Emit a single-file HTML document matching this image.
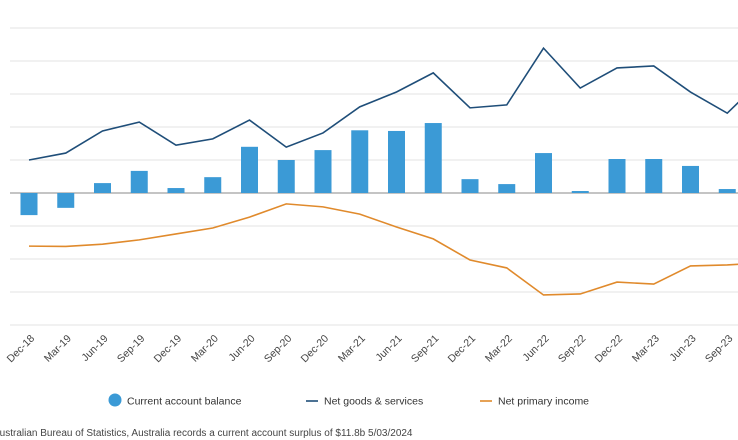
<!DOCTYPE html>
<html><head><meta charset="utf-8">
<style>
body{margin:0;background:#fff;width:738px;height:440px;overflow:hidden;font-family:"Liberation Sans",sans-serif;}
svg{position:absolute;left:0;top:0}
</style></head>
<body>
<svg id="chart" width="738" height="440"></svg>
<script>
const categories=["Dec-18","Mar-19","Jun-19","Sep-19","Dec-19","Mar-20","Jun-20","Sep-20","Dec-20","Mar-21","Jun-21","Sep-21","Dec-21","Mar-22","Jun-22","Sep-22","Dec-22","Mar-23","Jun-23","Sep-23","Dec-23"];
const currentAccount=[-6.7,-4.5,3,6.7,1.5,4.8,14,10,13,19,18.8,21.2,4.2,2.7,12.1,0.6,10.3,10.3,8.2,1.2,3.6];
const netGoods=[10,12.1,18.8,21.5,14.5,16.4,22.1,13.9,18.2,26.1,30.6,36.4,25.8,26.7,43.9,31.8,37.9,38.5,30.6,24.2,35];
const netPrimary=[-16.1,-16.2,-15.5,-14.2,-12.4,-10.6,-7.3,-3.3,-4.2,-6.4,-10.3,-13.9,-20.3,-22.7,-30.9,-30.6,-27,-27.6,-22.1,-21.8,-21.2];
const gridTicks=[-40,-30,-20,-10,0,10,20,30,40,50];

const NS="http://www.w3.org/2000/svg";
const svg=document.getElementById('chart');
const x=i=>29+i*36.75;
const y=v=>193-v*3.3;
function mk(t,a){const e=document.createElementNS(NS,t);for(const k in a)e.setAttribute(k,a[k]);svg.appendChild(e);return e;}

gridTicks.forEach(t=>{
  const l=mk('line',{x1:10,x2:738,y1:y(t),y2:y(t),stroke:t===0?'#888':'#e3e3e3','stroke-width':1});
  
  
});
currentAccount.forEach((v,i)=>{
  const r=mk('rect',{x:x(i)-8.5,width:17,y:Math.min(y(v),y(0)),height:Math.abs(y(v)-y(0)),fill:'#3b9ad6'});
  
  
});
function line(arr,col,name){
  const p=mk('polyline',{points:arr.map((v,i)=>x(i)+','+y(v)).join(' '),fill:'none',stroke:col,'stroke-width':1.6});
  
  
}
line(netGoods,'#1f4e79','net-goods-services-line');
line(netPrimary,'#e08a2c','net-primary-income-line');
categories.forEach((c,i)=>{
  const t=mk('text',{x:x(i)+6,y:339,'font-size':10.5,fill:'#444','text-anchor':'end',transform:`rotate(-45 ${x(i)+6} 339)`});
  t.textContent=c;
  
  
});
let c=mk('circle',{cx:115,cy:400,r:6.5,fill:'#3b9ad6'});

let t=mk('text',{x:127,y:404.5,'font-size':10.5,fill:'#333'});t.textContent='Current account balance';

let l=mk('line',{x1:306,x2:318,y1:401,y2:401,stroke:'#1f4e79','stroke-width':1.6});

t=mk('text',{x:324,y:404.5,'font-size':10.5,fill:'#333'});t.textContent='Net goods & services';

l=mk('line',{x1:480,x2:492,y1:401,y2:401,stroke:'#e08a2c','stroke-width':1.6});

t=mk('text',{x:498,y:404.5,'font-size':10.5,fill:'#333'});t.textContent='Net primary income';

t=mk('text',{x:-7,y:436,'font-size':10,fill:'#444'});t.textContent='Australian Bureau of Statistics, Australia records a current account surplus of $11.8b 5/03/2024';

</script>
</body></html>
